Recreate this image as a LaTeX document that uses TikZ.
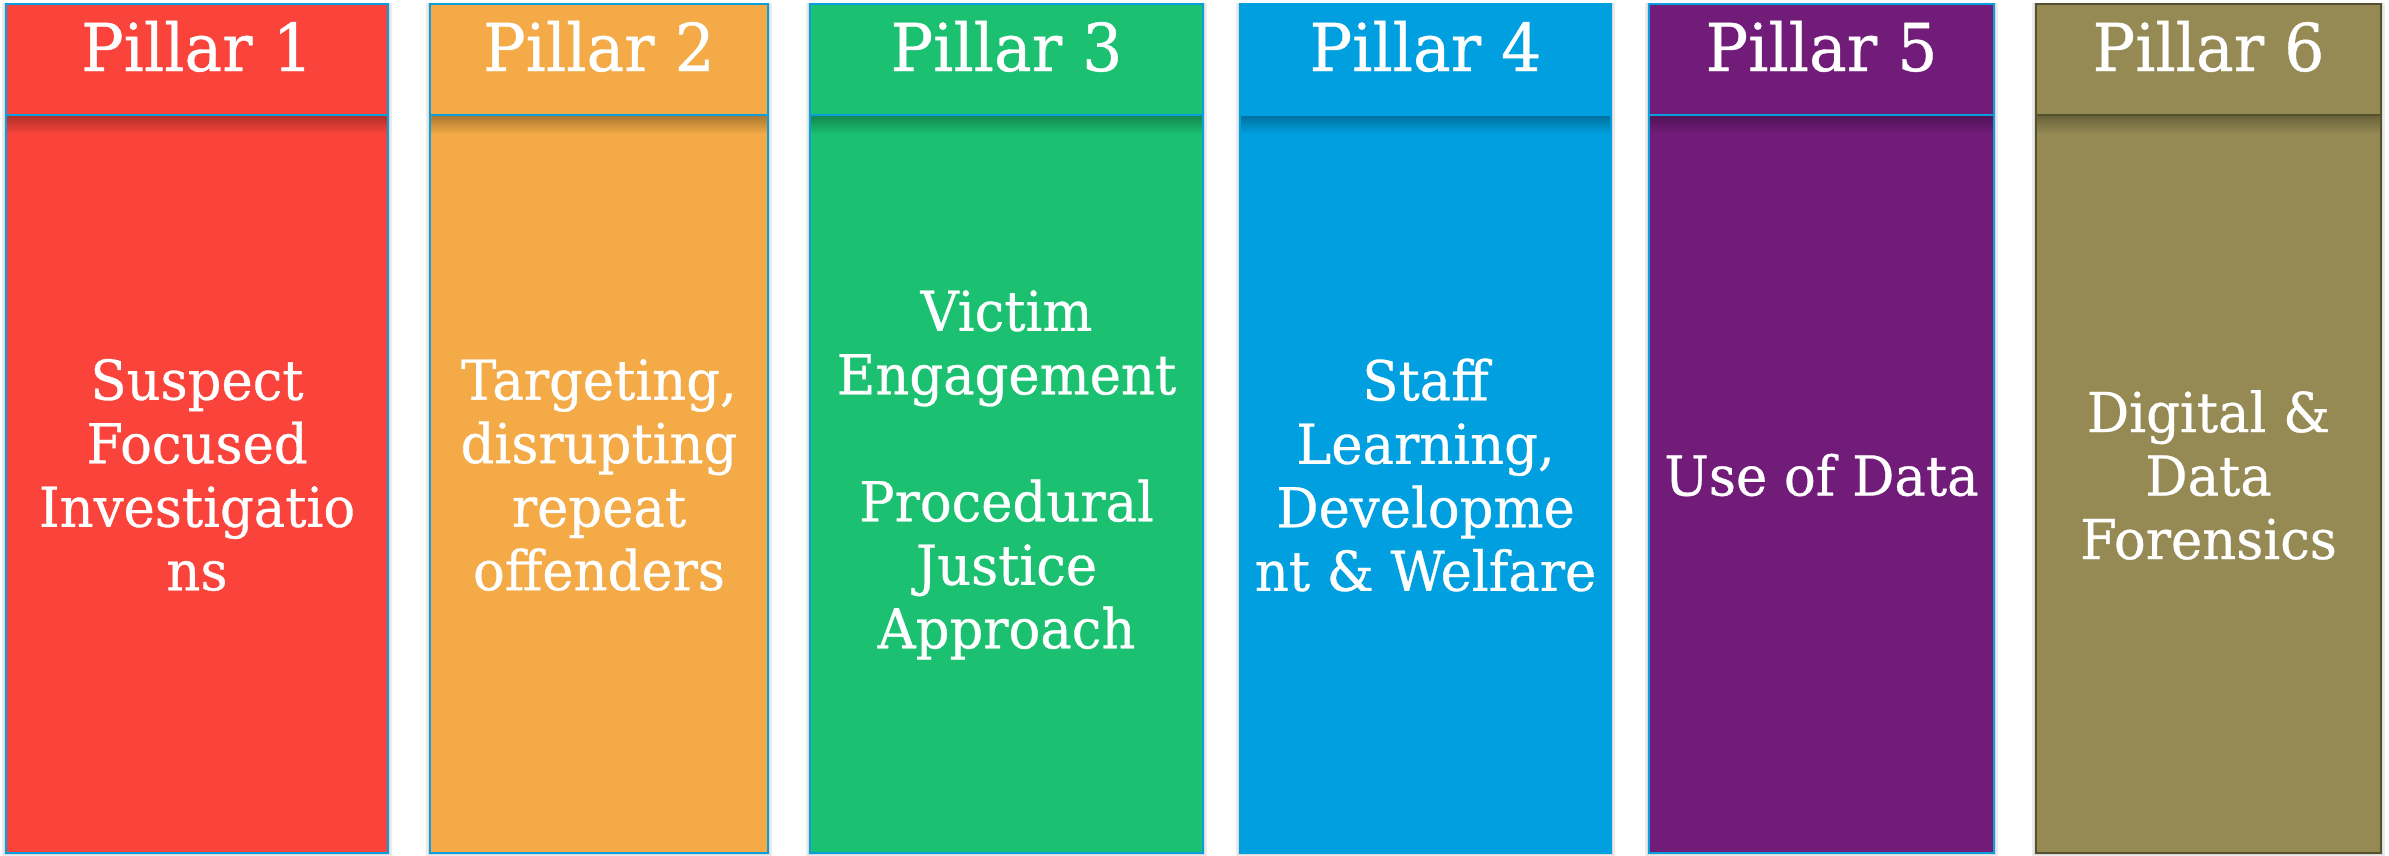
\documentclass[tikz,border=0pt]{standalone}
\usepackage{fontspec}
\setmainfont{DejaVu Serif}[FakeStretch=0.96,FakeBold=0.6]
\usetikzlibrary{calc}
\definecolor{pred}{HTML}{FA443B}
\definecolor{porange}{HTML}{F3AA47}
\definecolor{pgreen}{HTML}{1BC070}
\definecolor{pblue}{HTML}{00A0E0}
\definecolor{ppurple}{HTML}{721C7A}
\definecolor{polive}{HTML}{958A53}
\definecolor{olivedark}{HTML}{55502F}
\definecolor{edgeblue}{HTML}{0A9FDC}
\tikzset{
  pbox/.style={rectangle, inner sep=0pt, outer sep=0pt, line width=2.5pt},
  ptitle/.style={text=white, inner sep=0pt, anchor=base, font=\fontsize{66}{72}\selectfont},
  pbody/.style={text=white, inner sep=0pt, align=center, font=\fontsize{55}{63.5}\selectfont},
}
\newcommand\drawpillar[7]{%
  % #1 name, #2 x1, #3 x2, #4 fill, #5 border, #6 title, #7 body
  \fill[black, opacity=0.08] (#2-4,3) rectangle (#3+4,856);
  \fill[black, opacity=0.08] (#2-2,3) rectangle (#3+2,855);
  \node[pbox, fill=#4, draw=#5, minimum width={(#3-#2)*1pt}, minimum height=738pt, anchor=north west] (#1b) at (#2,115) {};
  \shade[top color=#4!72!black, bottom color=#4] (#2+1.3,116.5) rectangle (#3-1.3,134);
  \node[pbox, fill=#4, draw=#5, minimum width={(#3-#2)*1pt}, minimum height=111pt, anchor=north west] (#1h) at (#2,4) {};
  \node[ptitle] (#1t) at ($(#1h.south)+(0,-44)$) {#6};
  \node[pbody] (#1x) at ($(#1b.north)+(0,360)$) {#7};
}
\begin{document}
\begin{tikzpicture}[x=1pt,y=-1pt]
\useasboundingbox[fill=white] (0,0) rectangle (2389,855);
\drawpillar{p1}{6}{388}{pred}{edgeblue}{Pillar 1}{Suspect\\Focused\\Investigatio\\ns}
\drawpillar{p2}{430}{768}{porange}{edgeblue}{Pillar 2}{Targeting,\\disrupting\\repeat\\offenders}
\drawpillar{p3}{810}{1203}{pgreen}{edgeblue}{Pillar 3}{Victim\\Engagement\\[63.5pt]Procedural\\Justice\\Approach}
\drawpillar{p4}{1240}{1611}{pblue}{pblue}{Pillar 4}{Staff\\Learning,\\Developme\\nt \& Welfare}
\drawpillar{p5}{1649}{1994}{ppurple}{edgeblue}{Pillar 5}{Use of Data}
\drawpillar{p6}{2036}{2381}{polive}{olivedark}{Pillar 6}{Digital \&\\Data\\Forensics}
\end{tikzpicture}
\end{document}
